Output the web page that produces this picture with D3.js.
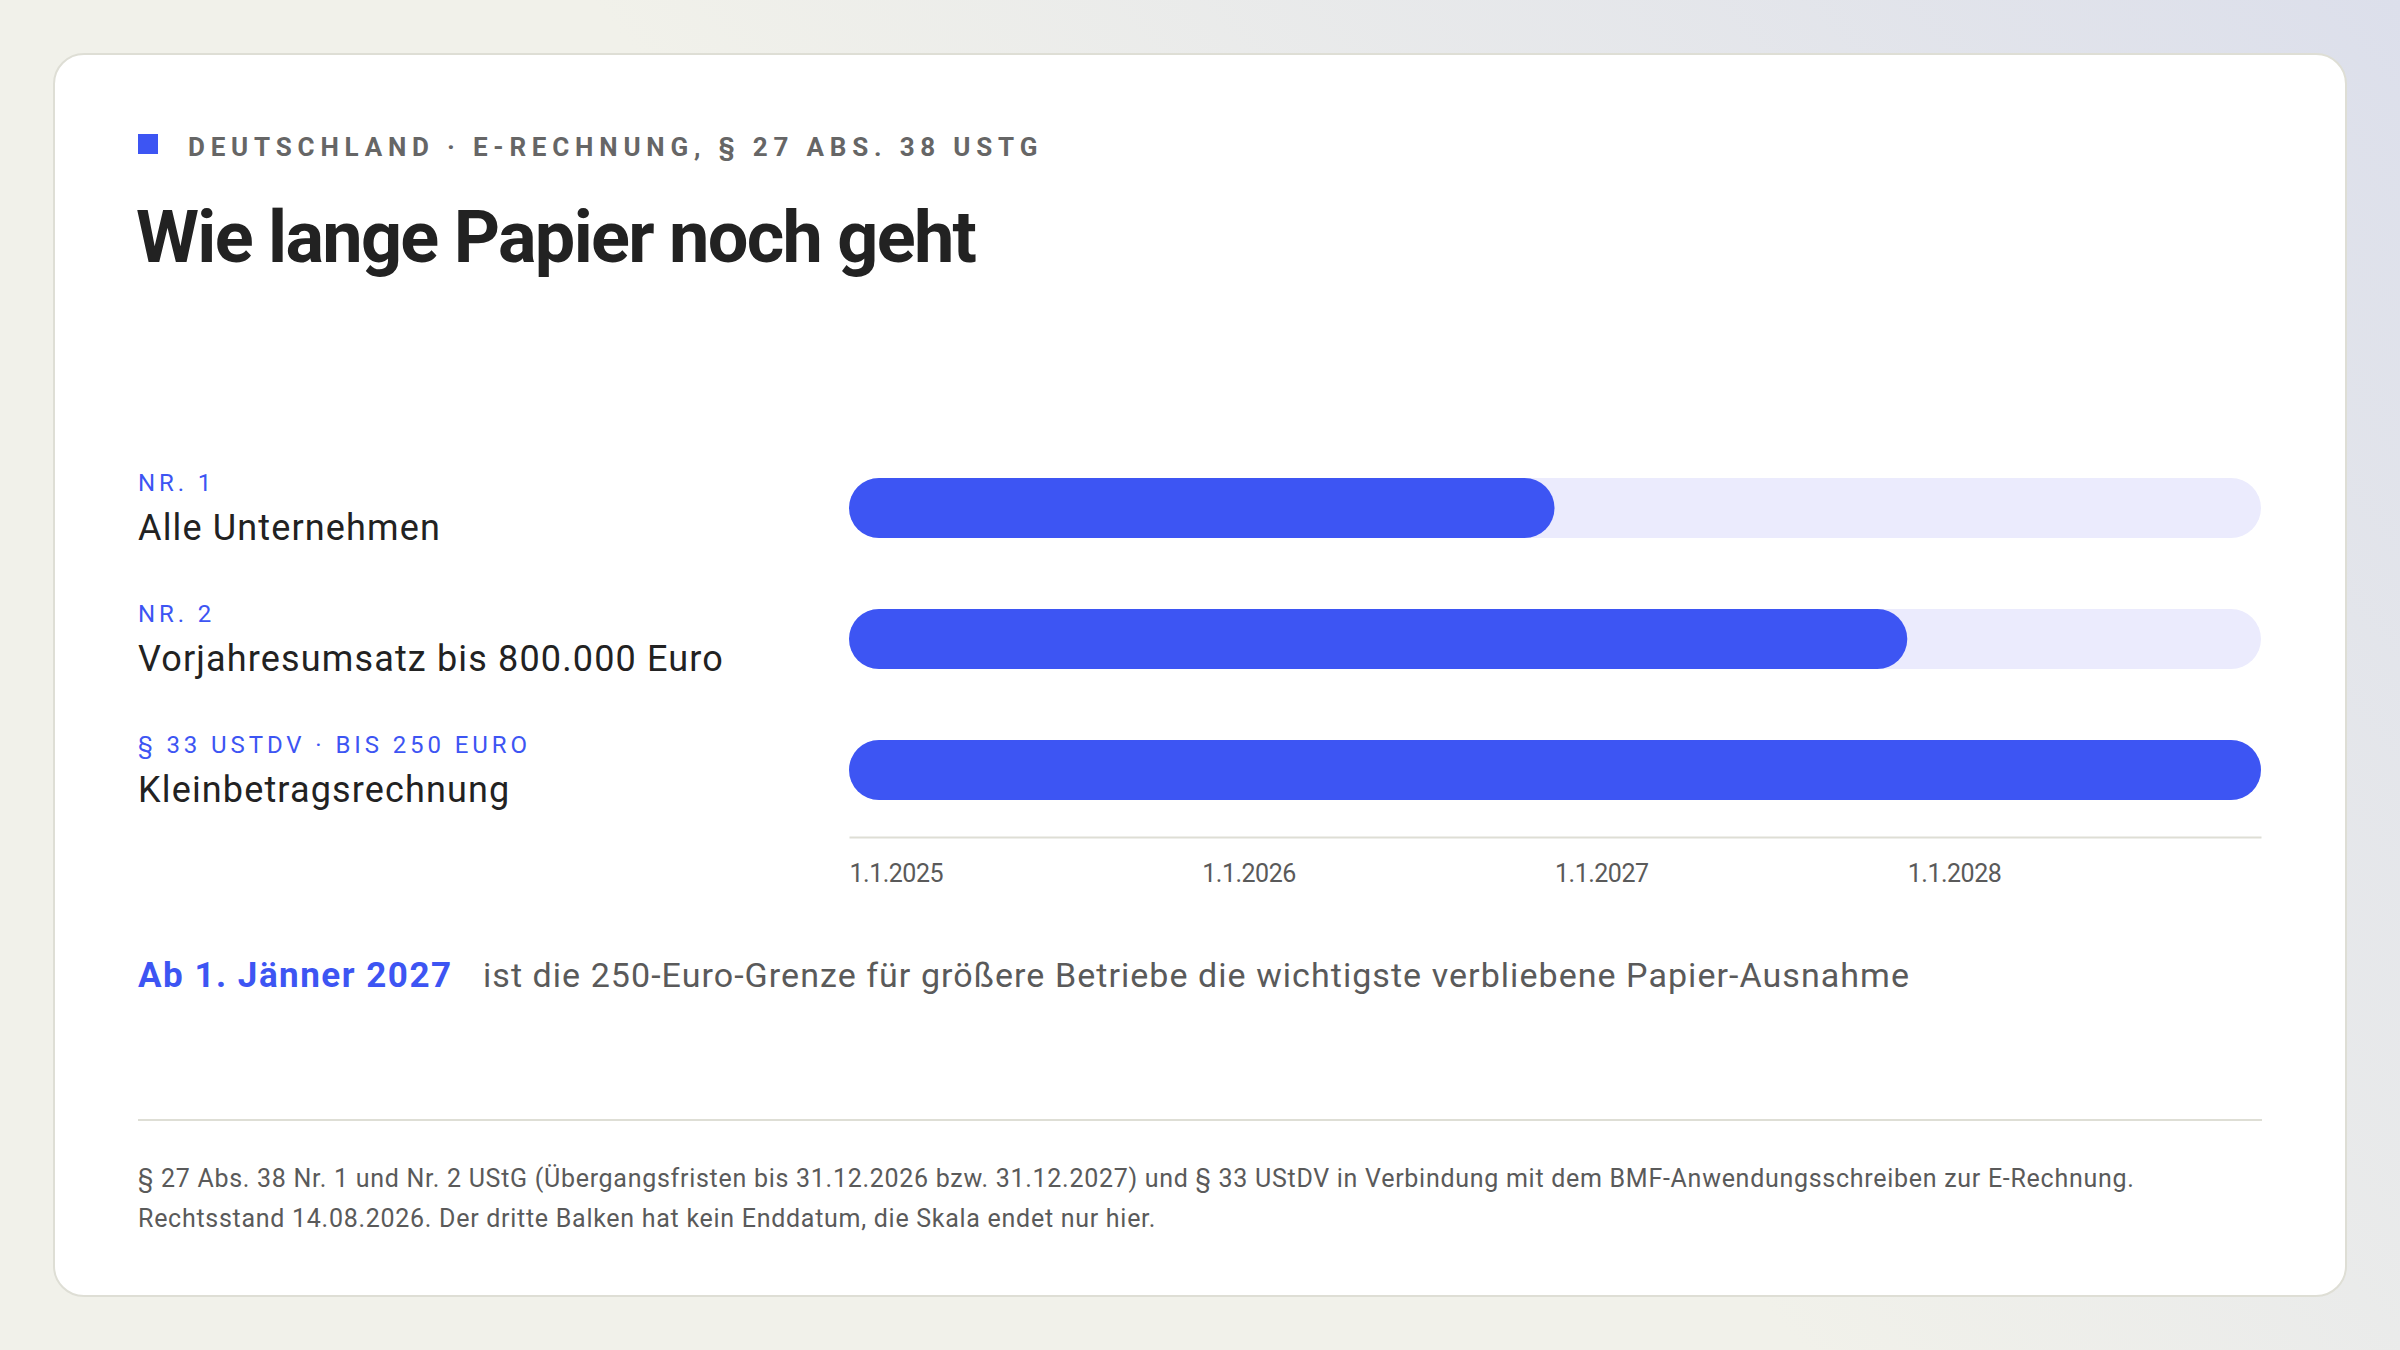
<!DOCTYPE html>
<html>
<head>
<meta charset="utf-8">
<script src="https://cdn.jsdelivr.net/npm/d3@7/dist/d3.min.js"></script>
<style>
  html, body { margin: 0; padding: 0; background: #f1f1ea; }
  svg { display: block; }
  text { font-family: Roboto, "Noto Sans", sans-serif; }
</style>
</head>
<body>
<script>
// ---- data ----
const kicker = "DEUTSCHLAND · E-RECHNUNG, § 27 ABS. 38 USTG";
const title = "Wie lange Papier noch geht";
const categories = ["Alle Unternehmen", "Vorjahresumsatz bis 800.000 Euro", "Kleinbetragsrechnung"];
const sublabels = ["NR. 1", "NR. 2", "§ 33 USTDV · BIS 250 EURO"];
const startDates = ["2025-01-01", "2025-01-01", "2025-01-01"];
const endDates = ["2027-01-01", "2028-01-01", "2029-01-01"];
const scaleDomain = ["2025-01-01", "2029-01-01"];
const tickDates = ["2025-01-01", "2026-01-01", "2027-01-01", "2028-01-01"];
const tickLabels = ["1.1.2025", "1.1.2026", "1.1.2027", "1.1.2028"];
const calloutStrong = "Ab 1. Jänner 2027";
const calloutText = "ist die 250-Euro-Grenze für größere Betriebe die wichtigste verbliebene Papier-Ausnahme";
const footnoteLines = [
  "§ 27 Abs. 38 Nr. 1 und Nr. 2 UStG (Übergangsfristen bis 31.12.2026 bzw. 31.12.2027) und § 33 UStDV in Verbindung mit dem BMF-Anwendungsschreiben zur E-Rechnung.",
  "Rechtsstand 14.08.2026. Der dritte Balken hat kein Enddatum, die Skala endet nur hier."
];

// ---- styles ----
const W = 2400, H = 1350;
const BLUE = "#3d55f3", TRACK = "#ebebfd", DARK = "#222222", GRAY = "#5a5a5a", RULE = "#deded5";
const parse = d3.timeParse("%Y-%m-%d");

const svg = d3.select("body").append("svg").attr("width", W).attr("height", H);
const defs = svg.append("defs");
const lg = defs.append("linearGradient").attr("id", "bg").attr("gradientUnits", "userSpaceOnUse")
  .attr("x1", 2400).attr("y1", 0).attr("x2", 1400).attr("y2", 900);
lg.append("stop").attr("offset", 0).attr("stop-color", "#dcdfeb");
lg.append("stop").attr("offset", 1).attr("stop-color", "#f1f1ea");
svg.append("rect").attr("width", W).attr("height", H).attr("fill", "url(#bg)");

// card
svg.append("rect").attr("x", 54).attr("y", 54).attr("width", 2292).attr("height", 1242)
  .attr("rx", 30).attr("fill", "#ffffff").attr("stroke", RULE).attr("stroke-width", 2);

// header
svg.append("rect").attr("x", 138).attr("y", 134).attr("width", 20).attr("height", 20).attr("fill", BLUE);
svg.append("text").attr("x", 188).attr("y", 156).text(kicker)
  .attr("font-size", 26).attr("font-weight", 700).attr("letter-spacing", "5.8px").attr("fill", "#666");
svg.append("text").attr("x", 136).attr("y", 262).text(title)
  .attr("font-size", 72).attr("font-weight", 700).attr("letter-spacing", "-1.7px").attr("fill", DARK);

// scales
const x = d3.scaleTime().domain(scaleDomain.map(parse)).range([849, 2261]);
const y = d3.scalePoint().domain(categories).range([508, 770]);
const barH = 60;

const rows = categories.map((c, i) => ({ cat: c, sub: sublabels[i], start: parse(startDates[i]), end: parse(endDates[i]) }));

const g = svg.append("g");
// tracks
g.selectAll("rect.track").data(rows).join("rect").attr("class", "track")
  .attr("x", x.range()[0]).attr("y", d => y(d.cat) - barH / 2)
  .attr("width", x.range()[1] - x.range()[0]).attr("height", barH)
  .attr("rx", barH / 2).attr("fill", TRACK);
// bars
g.selectAll("rect.bar").data(rows).join("rect").attr("class", "bar")
  .attr("x", d => x(d.start)).attr("y", d => y(d.cat) - barH / 2)
  .attr("width", d => x(d.end) - x(d.start)).attr("height", barH)
  .attr("rx", barH / 2).attr("fill", BLUE);

// labels
g.selectAll("text.sub").data(rows).join("text").attr("class", "sub")
  .attr("x", 138).attr("y", d => y(d.cat) - 17).text(d => d.sub)
  .attr("font-size", 24).attr("letter-spacing", "3.9px").attr("fill", BLUE);
g.selectAll("text.cat").data(rows).join("text").attr("class", "cat")
  .attr("x", 138).attr("y", d => y(d.cat) + 32).text(d => d.cat)
  .attr("font-size", 36).attr("letter-spacing", "1.15px").attr("fill", DARK);

// axis
const axisG = svg.append("g").attr("transform", "translate(0,837)");
const axis = d3.axisBottom(x).tickValues(tickDates.map(parse))
  .tickFormat((d, i) => tickLabels[i]).tickSize(0).tickPadding(0);
axisG.call(axis);
axisG.select(".domain").attr("stroke", RULE).attr("stroke-width", 2);
axisG.selectAll(".tick text").attr("text-anchor", "start").attr("dy", 0).attr("y", 45)
  .attr("font-size", 25).attr("font-family", "Roboto, sans-serif").attr("fill", GRAY).attr("letter-spacing", "-0.5px");

// callout
svg.append("text").attr("x", 138).attr("y", 987).text(calloutStrong)
  .attr("font-size", 35).attr("font-weight", 700).attr("letter-spacing", "1.5px").attr("fill", BLUE);
svg.append("text").attr("x", 483).attr("y", 987).text(calloutText)
  .attr("font-size", 34).attr("letter-spacing", "1.05px").attr("fill", GRAY);

// footer
svg.append("line").attr("x1", 138).attr("x2", 2262).attr("y1", 1120).attr("y2", 1120)
  .attr("stroke", RULE).attr("stroke-width", 2);
svg.selectAll("text.foot").data(footnoteLines).join("text").attr("class", "foot")
  .attr("x", 138).attr("y", (d, i) => 1187 + i * 40).text(d => d)
  .attr("font-size", 25).attr("letter-spacing", "0.72px").attr("fill", GRAY);
</script>
</body>
</html>
